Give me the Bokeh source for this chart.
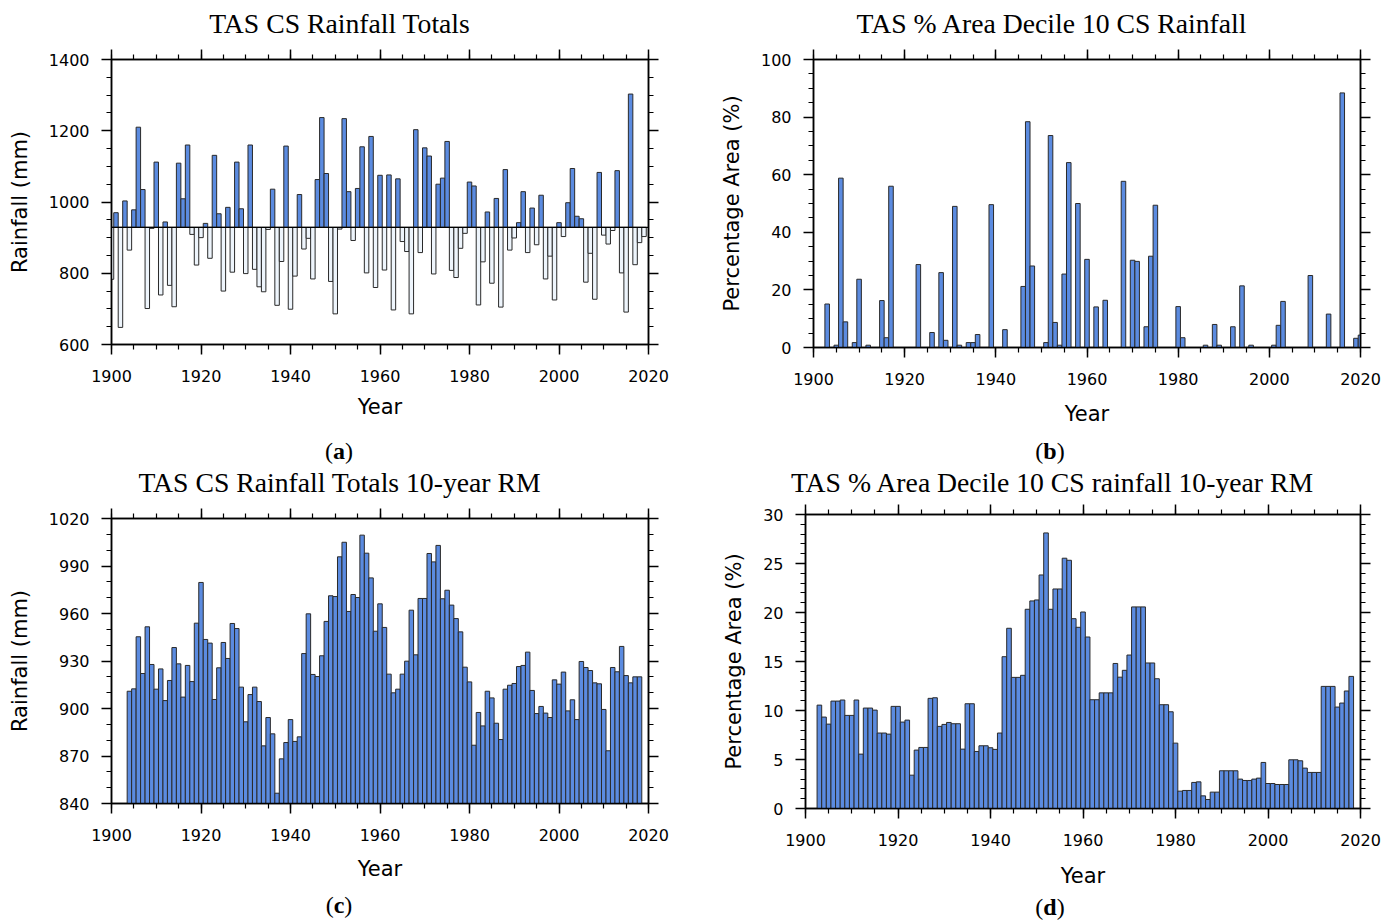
from bokeh.plotting import figure
from bokeh.models import (Range1d, SingleIntervalTicker, LinearAxis, Span,
                          ColumnDataSource, Div, CustomJSTickFormatter)
from bokeh.layouts import column, row
from bokeh.embed import file_html
from bokeh.resources import INLINE

# ---------------- data ----------------
# (a) annual rainfall totals 1900-2019 (mm)
years_a = list(range(1900, 2020))
rain_a = [783, 970, 648, 1003, 865, 978, 1210, 1035, 701, 926,
          1112, 739, 944, 766, 706, 1109, 1009, 1160, 909, 823,
          900, 940, 842, 1131, 967, 750, 985, 803, 1112, 981,
          799, 1160, 811, 762, 748, 923, 1036, 710, 833, 1157,
          699, 792, 1021, 868, 898, 784, 1063, 1237, 1080, 777,
          686, 924, 1234, 1029, 892, 1038, 1155, 801, 1184, 760,
          1075, 809, 1076, 697, 1065, 889, 861, 686, 1203, 858,
          1152, 1129, 798, 1050, 1067, 1170, 808, 788, 870, 912,
          1056, 1045, 711, 832, 972, 772, 1010, 705, 1091, 865,
          899, 942, 1029, 858, 983, 880, 1019, 784, 848, 725,
          942, 903, 998, 1094, 960, 953, 775, 856, 727, 1083,
          907, 882, 920, 1088, 801, 691, 1303, 824, 886, 903]
baseline_a = 929

# (b) % area in decile 10, 1900-2020 (non-zero years)
years_b = [1903, 1905, 1906, 1907, 1909, 1910, 1912, 1915, 1916, 1917,
           1923, 1926, 1928, 1929, 1931, 1932, 1934, 1935, 1936, 1939,
           1942, 1946, 1947, 1948, 1951, 1952, 1953, 1954, 1955, 1956,
           1958, 1960, 1962, 1964, 1968, 1970, 1971, 1973, 1974, 1975,
           1980, 1981, 1986, 1988, 1989, 1992, 1994, 1996, 2001, 2002,
           2003, 2009, 2013, 2016, 2019, 2020]
area_b = [15.1, 0.8, 58.8, 8.9, 1.7, 23.7, 0.8, 16.3, 3.4, 56.0,
          28.8, 5.2, 26.0, 2.5, 49.0, 0.8, 1.7, 1.7, 4.5, 49.6,
          6.2, 21.2, 78.4, 28.3, 1.7, 73.6, 8.7, 0.8, 25.5, 64.2,
          50.0, 30.6, 14.1, 16.4, 57.7, 30.3, 29.9, 7.2, 31.7, 49.4,
          14.2, 3.4, 0.8, 8.0, 0.8, 7.2, 21.4, 0.8, 0.8, 7.7,
          16.0, 25.0, 11.6, 88.4, 3.2, 4.3]

# (c) 10-year running mean of rainfall, 1904-2018
years_c = list(range(1904, 2019))
rm_c = [910.9, 912.4, 945.3, 922.1, 951.6, 927.8, 912.2, 925.0, 905.0, 917.7,
        938.5, 928.2, 907.2, 927.2, 917.0, 953.9, 979.6, 943.6, 941.3, 905.7,
        925.7, 941.7, 931.6, 953.7, 950.5, 913.5, 891.6, 908.8, 913.5, 904.4,
        876.4, 894.3, 884.0, 846.5, 868.2, 878.5, 893.0, 879.2, 882.1, 934.7,
        959.8, 921.5, 920.2, 933.3, 955.0, 971.2, 970.7, 995.8, 1005.0, 961.3,
        972.0, 970.1, 1009.5, 998.1, 982.5, 948.8, 966.1, 951.2, 921.7, 909.9,
        912.2, 921.7, 929.9, 962.1, 933.9, 969.5, 969.5, 997.9, 992.6, 1003.0,
        969.3, 974.7, 965.3, 956.8, 948.4, 926.1, 916.8, 876.8, 897.5, 889.0,
        910.9, 906.7, 890.7, 880.4, 912.2, 914.7, 915.8, 926.5, 927.2, 935.6,
        911.4, 896.8, 901.3, 897.1, 894.3, 918.1, 915.4, 923.0, 898.5, 905.5,
        893.0, 929.7, 925.9, 924.0, 916.2, 915.6, 899.4, 873.3, 925.9, 923.2,
        939.2, 920.8, 916.2, 920.0, 920.0]

# (d) 10-year running mean of % area decile 10, 1903-2018
years_d = list(range(1903, 2019))
rm_d = [10.55, 9.33, 8.61, 10.96, 10.96, 11.07, 9.5, 9.5, 11.07, 5.55,
        10.25, 10.25, 10.04, 7.7, 7.7, 7.59, 10.42, 10.42, 8.82, 9.02,
        3.4, 5.96, 6.23, 6.23, 11.24, 11.3, 8.38, 8.58, 8.78, 8.65,
        8.65, 6.06, 10.69, 10.69, 5.82, 6.4, 6.4, 6.2, 6.03, 7.7,
        15.49, 18.39, 13.38, 13.38, 13.59, 20.33, 21.18, 21.28, 23.83, 28.12,
        20.33, 22.4, 22.4, 25.54, 25.33, 19.37, 18.49, 20.05, 17.5, 11.1,
        11.1, 11.8, 11.8, 11.8, 14.8, 13.4, 14.1, 15.66, 20.57, 20.57,
        20.57, 14.85, 14.85, 13.24, 10.59, 10.59, 9.87, 6.67, 1.77, 1.84,
        1.84, 2.66, 2.72, 1.29, 0.92, 1.67, 1.67, 3.85, 3.85, 3.85,
        3.85, 3.0, 2.86, 2.86, 3.0, 3.1, 4.7, 2.55, 2.55, 2.45,
        2.45, 2.45, 4.97, 4.97, 4.87, 4.12, 3.68, 3.68, 3.68, 12.46,
        12.46, 12.46, 10.35, 10.76, 11.99, 13.48]

titles = ["TAS CS Rainfall Totals",
          "TAS % Area Decile 10 CS Rainfall",
          "TAS CS Rainfall Totals 10-year RM",
          "TAS % Area Decile 10 CS rainfall 10-year RM"]
letters = ["a", "b", "c", "d"]

BLUE = "#5b8be0"
PALE = "#eef5fc"
EDGE = "#2a2a2a"
SANS = "DejaVu Sans"
SERIF = "Liberation Serif"


def make_fig(yr, yint, yminor, fw, fh, bl, br, bt, bb, ylabel, xstand):
    p = figure(frame_width=fw, frame_height=fh,
               min_border_left=bl, min_border_right=br,
               min_border_top=bt, min_border_bottom=bb,
               x_range=Range1d(1900, 2020), y_range=Range1d(*yr),
               output_backend="svg", toolbar_location=None, tools="")
    p.xgrid.visible = False
    p.ygrid.visible = False
    p.outline_line_color = "black"
    p.outline_line_width = 1.5
    p.background_fill_color = "white"
    p.border_fill_color = "white"
    xa = p.below[0]
    ya = p.left[0]
    xt = SingleIntervalTicker(interval=20, num_minor_ticks=4)
    yt = SingleIntervalTicker(interval=yint, num_minor_ticks=yminor)
    xa.ticker = xt
    ya.ticker = yt
    empty = CustomJSTickFormatter(code="return ''")
    top = LinearAxis(ticker=xt, formatter=empty)
    right = LinearAxis(ticker=yt, formatter=empty)
    p.add_layout(top, "above")
    p.add_layout(right, "right")
    for ax in (xa, ya, top, right):
        ax.axis_line_width = 1.5
        ax.axis_line_color = "black"
        ax.major_tick_line_width = 1.5
        ax.minor_tick_line_width = 1.2
        ax.major_tick_line_color = "black"
        ax.minor_tick_line_color = "black"
        ax.major_tick_out = 10
        ax.major_tick_in = 0
        ax.minor_tick_out = 5
        ax.minor_tick_in = 0
        ax.major_label_text_font = SANS
        ax.major_label_text_font_size = "16px"
        ax.major_label_text_color = "black"
    xa.major_label_standoff = 15
    ya.major_label_standoff = 12
    for ax in (top, right):
        ax.major_label_text_font_size = "1px"
        ax.major_label_standoff = 0
        ax.axis_label_standoff = 0
    xa.axis_label = "Year"
    ya.axis_label = ylabel
    for ax in (xa, ya):
        ax.axis_label_text_font = SANS
        ax.axis_label_text_font_size = "21px"
        ax.axis_label_text_font_style = "normal"
        ax.axis_label_text_color = "black"
    xa.axis_label_standoff = xstand
    ya.axis_label_standoff = 14
    return p


def text_div(html, w, h, lh, size, pad_top=0, pad_left=0, pad_right=0):
    style = ("width:%dpx;height:%dpx;line-height:%dpx;text-align:center;"
             "font-family:'Liberation Serif';font-size:%spx;color:#000;"
             "padding-top:%dpx;padding-left:%dpx;padding-right:%dpx;"
             "box-sizing:border-box;white-space:nowrap;margin:0;"
             ) % (w, h, lh, size, pad_top, pad_left, pad_right)
    return Div(text='<div style="%s">%s</div>' % (style, html),
               width=w, height=h, margin=0)


def caption(letter):
    return "(<b>%s</b>)" % letter


# ---------------- (a) ----------------
pa = make_fig((600, 1400), 200, 4, 537, 285, 111, 55, 15, 93, "Rainfall (mm)", 10)
src_a = ColumnDataSource(dict(
    x=years_a, top=rain_a, bottom=[baseline_a] * len(years_a),
    color=[BLUE if v >= baseline_a else PALE for v in rain_a]))
pa.vbar(x="x", top="top", bottom="bottom", width=1, source=src_a,
        fill_color="color", line_color=EDGE, line_width=1)
pa.add_layout(Span(location=baseline_a, dimension="width",
                   line_color="black", line_width=1.3))

# ---------------- (b) ----------------
pb = make_fig((0, 100), 20, 4, 547, 288, 110, 29, 15, 90, "Percentage Area (%)", 14)
pb.vbar(x=years_b, top=area_b, bottom=0, width=1,
        fill_color=BLUE, line_color=EDGE, line_width=1)

# ---------------- (c) ----------------
pc = make_fig((840, 1020), 30, 3, 537, 285, 111, 55, 17, 85, "Rainfall (mm)", 13)
pc.vbar(x=years_c, top=rm_c, bottom=840, width=1,
        fill_color=BLUE, line_color=EDGE, line_width=1)

# ---------------- (d) ----------------
pd_ = make_fig((0, 30), 5, 5, 555, 294, 102, 29, 13, 80, "Percentage Area (%)", 15)
pd_.vbar(x=years_d, top=rm_d, bottom=0, width=1,
         fill_color=BLUE, line_color=EDGE, line_width=1)

# ---------------- titles / captions ----------------
TS = "27.7"
t_a = text_div(titles[0], 703, 44, 30, TS, pad_top=9, pad_right=24)
t_b = text_div(titles[1], 686, 44, 30, TS, pad_top=9, pad_left=11)
c_a = text_div(caption("a"), 703, 28, 28, "24", pad_right=25)
c_b = text_div(caption("b"), 686, 28, 28, "24", pad_left=8)
t_c = text_div(titles[2], 703, 36, 30, TS, pad_top=3, pad_right=24)
t_d = text_div(titles[3], 686, 36, 30, TS, pad_top=3, pad_left=12)
c_c = text_div(caption("c"), 703, 31, 28, "24", pad_top=3, pad_right=25)
c_d = text_div(caption("d"), 686, 31, 28, "24", pad_top=3, pad_left=8)

layout = column(row(column(t_a, pa, c_a), column(t_b, pb, c_b)),
                row(column(t_c, pc, c_c), column(t_d, pd_, c_d)))
open("out.html", "w").write(file_html(layout, INLINE))
